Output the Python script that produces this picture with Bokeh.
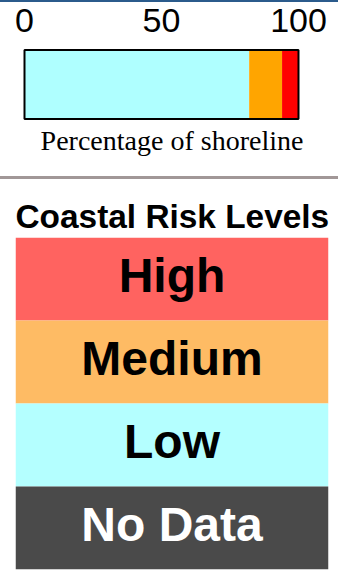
import numpy as np
from bokeh.plotting import figure
from bokeh.layouts import column
from bokeh.models import (Range1d, FixedTicker, FactorRange, ColumnDataSource,
                          LinearAxis, Div)
from bokeh.core.properties import value
from bokeh.embed import file_html
from bokeh.resources import INLINE

# ---- data ----
bar_levels = ["Low", "Medium", "High"]
shoreline_pct = [82, 12, 6]
bar_colors = ["#AFFFFF", "#FFA500", "#FF0000"]
tick_values = [0, 50, 100]
tick_labels = ["0", "50", "100"]
caption = "Percentage of shoreline"

legend_title = "Coastal Risk Levels"
legend_levels = ["High", "Medium", "Low", "No Data"]
legend_colors = ["#FF6360", "#FEBB64", "#B4FFFF", "#4A4A4A"]
legend_text_colors = ["black", "black", "black", "white"]

W = 338


def strip(h, color):
    return Div(width=W, height=h, margin=0,
               styles={"background-color": color, "width": f"{W}px", "height": f"{h}px"})


# ---- stacked percentage bar ----
total = float(sum(shoreline_pct))
rights = np.cumsum(shoreline_pct)
lefts = rights - np.array(shoreline_pct)
src_a = ColumnDataSource(dict(level=bar_levels, left=lefts, right=rights, color=bar_colors))

pa = figure(width=W, height=174, x_range=Range1d(-3.2847, 110.949),
            y_range=Range1d(-0.05, 1.05),
            toolbar_location=None, output_backend="svg",
            x_axis_location="above", y_axis_location=None,
            min_border_left=15, min_border_right=10, min_border_top=44, min_border_bottom=54)
pa.hbar(y=0.5, left="left", right="right", height=1, fill_color="color",
        line_color=None, source=src_a)
pa.hbar(y=[0.5], left=[0], right=[total], height=1, fill_color=None,
        line_color="black", line_width=2)
pa.xaxis.ticker = FixedTicker(ticks=tick_values)
pa.xaxis.major_label_overrides = {v: t for v, t in zip(tick_values, tick_labels)}
pa.xaxis.axis_line_color = None
pa.xaxis.major_tick_line_color = None
pa.xaxis.minor_tick_line_color = None
pa.xaxis.major_tick_out = 0
pa.xaxis.major_tick_in = 0
pa.xaxis.major_label_text_font = "Liberation Sans"
pa.xaxis.major_label_text_font_size = "34px"
pa.xaxis.major_label_text_color = "black"
pa.xaxis.major_label_standoff = 15

cap_axis = LinearAxis(ticker=FixedTicker(ticks=[]), axis_label=caption)
cap_axis.axis_line_color = None
cap_axis.major_tick_line_color = None
cap_axis.minor_tick_line_color = None
cap_axis.major_tick_out = 0
cap_axis.major_tick_in = 0
cap_axis.major_label_standoff = 0
cap_axis.axis_label_standoff = 2
cap_axis.axis_label_text_font = "Liberation Serif"
cap_axis.axis_label_text_font_size = "28px"
cap_axis.axis_label_text_font_style = "normal"
cap_axis.axis_label_text_color = "black"
pa.add_layout(cap_axis, "below")
pa.grid.visible = False
pa.outline_line_color = None

# ---- legend blocks ----
src_b = ColumnDataSource(dict(level=legend_levels, color=legend_colors,
                              tcolor=legend_text_colors))
pb = figure(width=W, height=405, y_range=FactorRange(*reversed(legend_levels)),
            x_range=Range1d(0, 1), toolbar_location=None, output_backend="svg",
            x_axis_location=None, y_axis_location=None, title=legend_title,
            min_border_left=15, min_border_right=10, min_border_top=58, min_border_bottom=15)
pb.hbar(y="level", left=0, right=1, height=1, fill_color="color", line_color=None,
        source=src_b)
pb.text(x=0.5, y="level", text="level", text_align="center", text_baseline="middle",
        y_offset=-4,
        text_font=value("Liberation Sans"), text_font_style="bold",
        text_font_size="48px", text_color="tcolor", source=src_b)
pb.grid.visible = False
pb.outline_line_color = None
pb.title.text_font = "Liberation Sans"
pb.title.text_font_size = "33.4px"
pb.title.text_font_style = "bold"
pb.title.text_color = "black"
pb.title.align = "left"
pb.title.standoff = 5

layout = column(strip(2, "#2B5B8C"), pa, strip(3, "#A19797"), pb, spacing=0)

open("out.html", "w").write(file_html(layout, INLINE))
